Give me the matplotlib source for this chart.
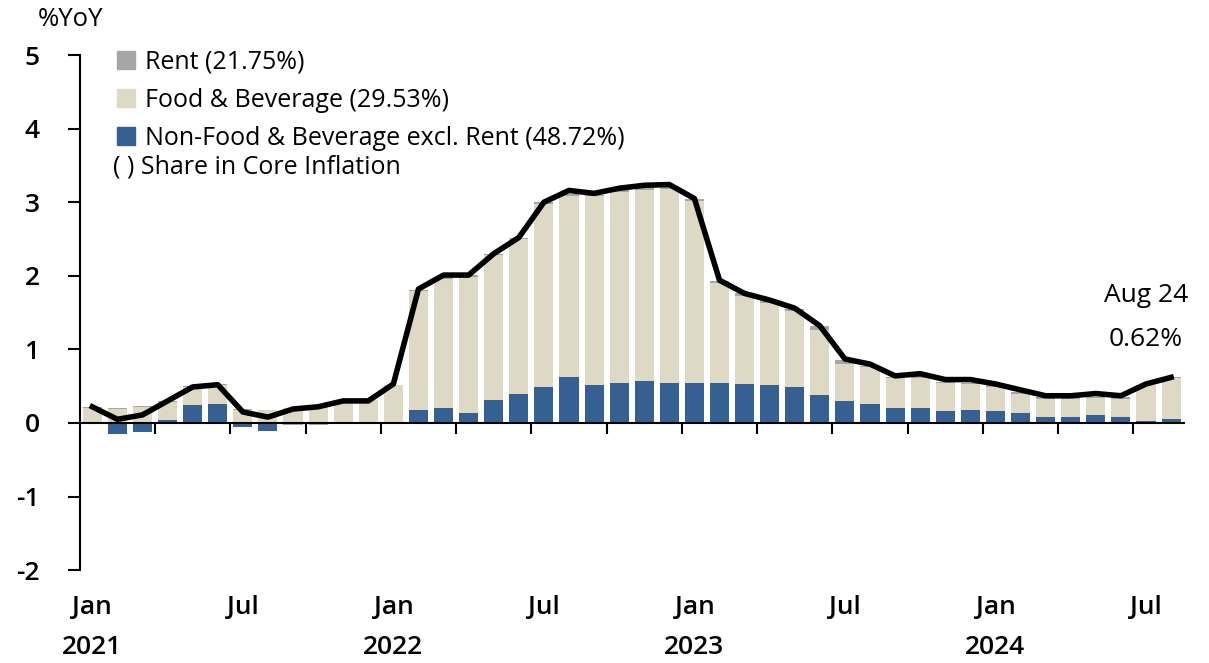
import numpy as np
import matplotlib.pyplot as plt
from matplotlib.patches import Patch
import matplotlib.transforms as mtransforms

plt.rcParams['font.family'] = ['Open Sans', 'DejaVu Sans']
plt.rcParams['axes.unicode_minus'] = False

# data, Jan 2021 .. Aug 2024 (%YoY contribution)
months = ['Jan', 'Feb', 'Mar', 'Apr', 'May', 'Jun', 'Jul', 'Aug', 'Sep', 'Oct', 'Nov', 'Dec']
years = ['2021', '2022', '2023', '2024']

non_food = [0.00, -0.15, -0.12, 0.045, 0.24, 0.26, -0.05, -0.11, -0.01, -0.01, 0.00, 0.00,
            0.02, 0.18, 0.21, 0.14, 0.31, 0.40, 0.49, 0.62, 0.52, 0.55, 0.57, 0.55,
            0.55, 0.54, 0.53, 0.51, 0.485, 0.385, 0.295, 0.26, 0.20, 0.21, 0.16, 0.17,
            0.16, 0.13, 0.08, 0.08, 0.11, 0.08, 0.03, 0.05]
food = [0.21, 0.19, 0.22, 0.24, 0.25, 0.26, 0.18, 0.17, 0.21, 0.23, 0.30, 0.31,
        0.49, 1.61, 1.74, 1.85, 1.97, 2.10, 2.49, 2.47, 2.56, 2.59, 2.60, 2.63,
        2.46, 1.36, 1.20, 1.12, 1.04, 0.885, 0.505, 0.50, 0.41, 0.40, 0.38, 0.36,
        0.33, 0.27, 0.25, 0.24, 0.23, 0.25, 0.48, 0.56]
rent = [0.01, 0.01, 0.01, 0.01, 0.01, 0.01, 0.01, 0.01, -0.02, -0.02, 0.00, 0.00,
        0.01, 0.02, 0.02, 0.02, 0.02, 0.02, 0.02, 0.02, 0.02, 0.02, 0.02, 0.02,
        0.03, 0.03, 0.03, 0.03, 0.03, 0.05, 0.05, 0.02, 0.02, 0.03, 0.02, 0.02,
        0.02, 0.02, 0.02, 0.02, 0.02, 0.02, 0.01, 0.01]
core = [0.22, 0.05, 0.11, 0.30, 0.49, 0.52, 0.15, 0.08, 0.19, 0.22, 0.30, 0.30,
        0.53, 1.82, 2.01, 2.01, 2.30, 2.52, 3.00, 3.16, 3.12, 3.19, 3.23, 3.24,
        3.05, 1.94, 1.76, 1.67, 1.56, 1.32, 0.87, 0.80, 0.64, 0.67, 0.59, 0.59,
        0.53, 0.45, 0.37, 0.37, 0.40, 0.37, 0.53, 0.62]

c_rent = '#a6a6a6'
c_food = '#ddd9c4'
c_nonfood = '#376092'

x = np.arange(len(core))
nf = np.array(non_food)
fd = np.array(food)
rt = np.array(rent)

# stack bottoms: positives upward, negatives downward
pos_nf = np.clip(nf, 0, None)
neg_nf = np.clip(nf, None, 0)
rent_bottom = np.where(rt >= 0, pos_nf + fd, neg_nf)

fig = plt.figure(figsize=(12.09, 6.63), dpi=100)
ax = fig.add_axes([0.066, 0.140, 0.913, 0.777])

w = 0.76
ax.bar(x, nf, width=w, color=c_nonfood, zorder=2)
ax.bar(x, fd, width=w, bottom=pos_nf, color=c_food, zorder=2)
ax.bar(x, rt, width=w, bottom=rent_bottom, color=c_rent, zorder=2)
ax.plot(x, core, color='black', lw=4, zorder=3, solid_joinstyle='round')

ax.set_xlim(-0.5, len(core) - 0.5)
ax.set_ylim(-2, 5)
ax.set_yticks(range(-2, 6))
ax.tick_params(axis='y', direction='out', length=9, width=1.5, labelsize=19, pad=20)
for lab in ax.get_yticklabels():
    lab.set_fontweight('semibold')

for s in ['top', 'right']:
    ax.spines[s].set_visible(False)
ax.spines['left'].set_linewidth(1.5)
ax.spines['bottom'].set_position(('data', 0))
ax.spines['bottom'].set_linewidth(1.5)
ax.spines['bottom'].set_zorder(4)

ax.set_xticks(np.arange(2.5, len(core) - 1, 3))
ax.set_xticklabels([])
ax.tick_params(axis='x', direction='out', length=8, width=1.5)

# month / year labels below the plot
trans = mtransforms.blended_transform_factory(ax.transData, ax.transAxes)
for i in range(0, len(core), 6):
    ax.text(i, -0.072, months[i % 12], transform=trans, ha='center', va='center',
            fontsize=19, fontweight='semibold')
    if i % 12 == 0:
        ax.text(i, -0.150, years[i // 12], transform=trans, ha='center', va='center',
                fontsize=19, fontweight='semibold')

handles = [Patch(color=c_rent), Patch(color=c_food), Patch(color=c_nonfood)]
labels = ['Rent (21.75%)', 'Food & Beverage (29.53%)',
          'Non-Food & Beverage excl. Rent (48.72%)']
ax.legend(handles, labels, loc='upper left', bbox_to_anchor=(0.025, 1.03),
          frameon=False, fontsize=18, handlelength=0.72, handleheight=0.72,
          handletextpad=0.4, labelspacing=0.52, borderaxespad=0)
fig.text(113 / 1209, 1 - 167 / 663, '( ) Share in Core Inflation', fontsize=18,
         ha='left', va='center')

fig.text(38 / 1209, 1 - 20 / 663, '%YoY', fontsize=18.5, ha='left', va='center')
ax.text(42.0, 1.73, 'Aug 24', fontsize=19, ha='center', va='center')
ax.text(42.0, 1.14, '0.62%', fontsize=19, ha='center', va='center')

fig.savefig('out.png', dpi=100)
